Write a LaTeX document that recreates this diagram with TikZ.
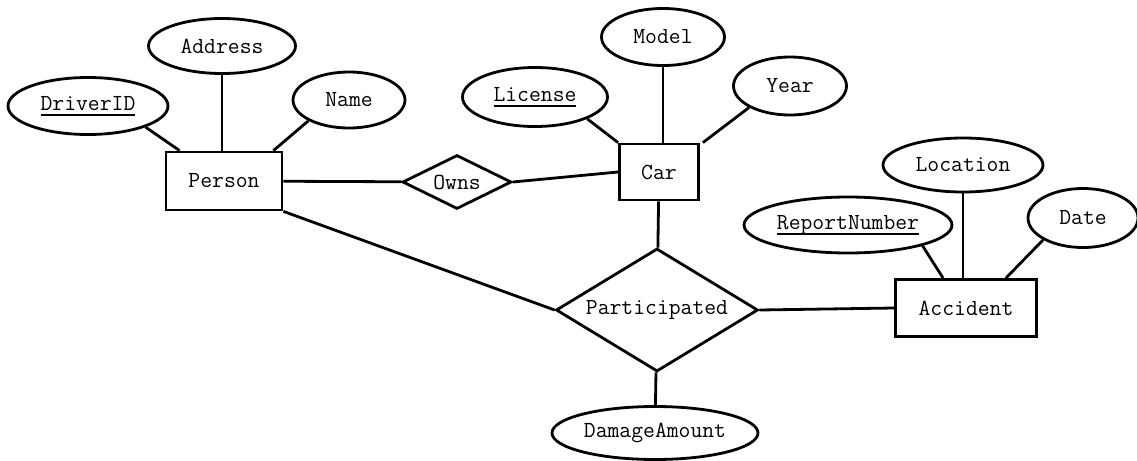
\documentclass[tikz,border=0pt]{standalone}
\usepackage{tikz}
\usetikzlibrary{calc}
\usetikzlibrary{shapes.geometric}

\newcommand{\keyattr}[1]{\setbox0\hbox{#1}\rlap{\rule[-2.8pt]{\wd0}{1.1pt}}\box0}

\tikzset{
  er/.style={draw, line width=1.4pt, inner sep=0pt,
             font=\ttfamily\fontsize{11.5}{13}\selectfont},
  entity/.style={er, rectangle},
  attr/.style={er, ellipse},
  rel/.style={er, diamond, shape aspect=1.7},
  link/.style={line width=1.4pt}
}

\begin{document}
\begin{tikzpicture}[x=0.5pt,y=-0.5pt]
            \useasboundingbox (0,0) rectangle (1137,461);

            % Person and its attributes
            \node[entity, minimum width=58pt, minimum height=29pt] (person) at (224,181) {Person};
            \node[attr, minimum width=80pt, minimum height=28.5pt] (driverid) at (88,106) {\keyattr{DriverID}};
            \node[attr, minimum width=73.5pt, minimum height=27.5pt] (address) at (222,46) {Address};
            \node[attr, minimum width=56pt, minimum height=28pt] (name) at (349,100) {Name};
            \draw[link] (driverid.south east) -- ($(person.north west)+(15,0)$);
            \draw[link] (address.south) -- (address.south |- person.north);
            \draw[link] (name.south west) -- ($(person.north east)+(-10,0)$);

            % Car and its attributes
            \node[entity, minimum width=39.5pt, minimum height=28pt] (car) at (659,172) {Car};
            \node[attr, minimum width=72.5pt, minimum height=29.5pt] (license) at (535,97) {\keyattr{License}};
            \node[attr, minimum width=61.5pt, minimum height=28.5pt] (model) at (663,37) {Model};
            \node[attr, minimum width=56.5pt, minimum height=29pt] (year) at (790,86) {Year};
            \draw[link] (license.south east) -- (car.north west);
            \draw[link] (model.south) -- (model.south |- car.north);
            \draw[link] (year.south west) -- ($(car.north east)+(3,0)$);

            % Accident and its attributes
            \node[entity, minimum width=70.5pt, minimum height=28.5pt] (accident) at (966,308) {Accident};
            \node[attr, minimum width=104pt, minimum height=28pt] (reportno) at (848,225) {\keyattr{ReportNumber}};
            \node[attr, minimum width=80pt, minimum height=27pt] (location) at (963,165) {Location};
            \node[attr, minimum width=55pt, minimum height=29.5pt] (date) at (1083,218) {Date};
            \draw[link] (reportno.south east) -- ($(accident.north west)+(49,0)$);
            \draw[link] (location.south) -- (location.south |- accident.north);
            \draw[link] (date.south west) -- ($(accident.north east)+(-32,0)$);

            % relationships
            \node[rel, minimum width=54.5pt, minimum height=27pt] (owns) at (457,182) {Owns};
            \node[rel, minimum width=101pt, minimum height=61.5pt] (part) at (657,310) {Participated};
            \node[attr, minimum width=103pt, minimum height=26.5pt] (damage) at (655,433) {DamageAmount};
            \draw[link] (person) -- (owns);
            \draw[link] (owns.east) -- (car.west);
            \draw[link] (car) -- (part);
            \draw[link] (person.south east) -- (part.west);
            \draw[link] (part.east) -- (accident.west);
            \draw[link] (part) -- (damage);
        \end{tikzpicture}
\end{document}
